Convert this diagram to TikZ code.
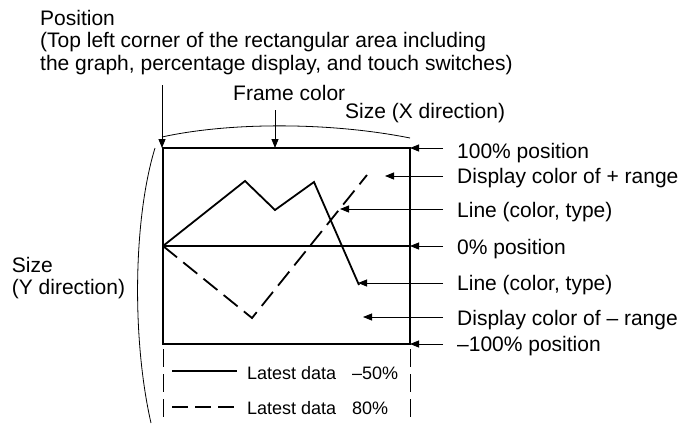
\documentclass[tikz,border=0pt]{standalone}
\usepackage{fontspec}
\setmainfont{Liberation Sans}
\usetikzlibrary{arrows.meta, positioning, calc}
\tikzset{
    chart/.style={x=1pt, y=-1pt, line join=miter},
    pointer/.style={-{Triangle[length=9pt, width=7pt]}, line width=0.8pt},
    span/.style={line width=0.8pt},
    frameline/.style={line width=1.8pt},
    trace/.style={line width=1.8pt},
    tracedash/.style={line width=1.8pt, dash pattern=on 18pt off 8pt},
    guide/.style={line width=0.8pt, dash pattern=on 18pt off 7pt},
    lbl/.style={font=\fontsize{21}{22.5}\selectfont, inner sep=0pt, anchor=base west, align=left},
    keylbl/.style={font=\fontsize{18}{20}\selectfont, inner sep=0pt, anchor=base west},
}
\begin{document}
\begin{tikzpicture}[chart]
    \useasboundingbox (0,0) rectangle (685,423);

    % frame corners and zero line
    \coordinate (tl) at (163,148);
    \coordinate (tr) at (410,148);
    \coordinate (bl) at (163,344);
    \coordinate (br) at (410,344);
    \coordinate (zl) at (163,246);
    \coordinate (zr) at (410,246);

    % data points
    \coordinate (s1) at (245,181);
    \coordinate (s2) at (275,210);
    \coordinate (s3) at (314,182);
    \coordinate (s4) at (359,285);
    \coordinate (d1) at (252,318);
    \coordinate (d2) at (367,175);

    \draw[frameline] (tl) rectangle (br);
    \draw[line width=1.3pt] (zl) -- (zr);
    \draw[trace] (zl) -- (s1) -- (s2) -- (s3) -- (s4);
    \draw[tracedash] (zl) -- (d1) -- (d2);

    % top labels
    \node[lbl, anchor=north west] (pos) at (40,10)
        {Position\\(Top left corner of the rectangular area including\\the graph, percentage display, and touch switches)};
    \node[lbl] (fcol) at (233,100) {Frame color};
    \node[lbl] (sizex) at (345,118) {Size (X direction)};
    \node[lbl, anchor=north west] (sizey) at (11.7,257) {Size\\(Y direction)};

    \coordinate (posarr) at (162,85);
    \coordinate (fcolarr) at (275,110);
    \draw[pointer] (posarr) -- (posarr |- tl);
    \draw[pointer] (fcolarr) -- (fcolarr |- tl);

    % size spans
    \draw[span] (162,137) .. controls (230,122) and (330,122) .. (410,138);
    \draw[span] (155,148) .. controls (133,220) and (132,340) .. (151,423);

    % right labels
    \node[lbl] (p100)  at (457,158)   {100\% position};
    \node[lbl] (cplus) at (457,183)   {Display color of + range};
    \node[lbl] (line1) at (457,217)   {Line (color, type)};
    \node[lbl] (p0)    at (457,254)   {0\% position};
    \node[lbl] (line2) at (457,290)   {Line (color, type)};
    \node[lbl] (cminus) at (457,325)  {Display color of – range};
    \node[lbl] (pm100) at (457,351.5) {–100\% position};

    \coordinate (a100)  at (443,148);
    \coordinate (aplus) at (443,176);
    \coordinate (aline1) at (443,209);
    \coordinate (a0)    at (443,246);
    \coordinate (aline2) at (443,283);
    \coordinate (aminus) at (443,317);
    \coordinate (am100) at (443,344);

    \draw[pointer] (a100) -- (tr);
    \draw[pointer] (aplus) -- (385,176);
    \draw[pointer] (aline1) -- (340,209);
    \draw[pointer] (a0) -- (zr);
    \draw[pointer] (aline2) -- (358,283);
    \draw[pointer] (aminus) -- (363,317);
    \draw[pointer] (am100) -- (br);

    % legend area
    \draw[guide] (163,349) -- (163,423);
    \draw[guide] (410,349) -- (410,423);
    \coordinate (k1a) at (172,371);
    \coordinate (k1b) at (237,371);
    \coordinate (k2a) at (172,407);
    \coordinate (k2b) at (237,407);
    \draw[line width=1.8pt] (k1a) -- (k1b);
    \draw[line width=1.8pt, dash pattern=on 16pt off 7pt] (k2a) -- (k2b);
    \node[keylbl] (key1) at (247,379) {Latest data};
    \node[keylbl] (val1) at (352,379) {–50\%};
    \node[keylbl] (key2) at (247,414) {Latest data};
    \node[keylbl] (val2) at (352,414) {80\%};
\end{tikzpicture}
\end{document}
